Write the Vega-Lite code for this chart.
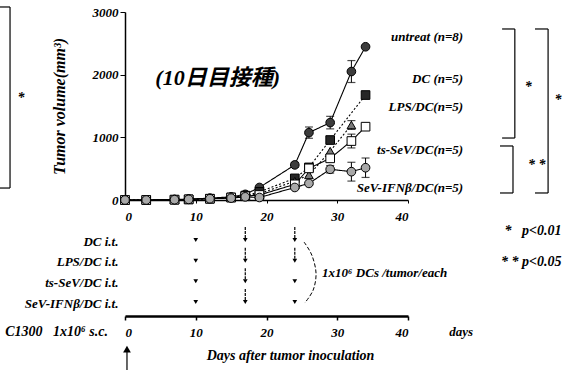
{
  "$schema": "https://vega.github.io/schema/vega-lite/v6.json",
  "width": 283,
  "height": 188,
  "autosize": {"type": "none"},
  "padding": {"left": 125, "top": 12, "right": 157, "bottom": 174},
  "background": "white",
  "config": {
    "view": {"stroke": null},
    "font": "Liberation Serif, Times New Roman, serif",
    "axis": {"grid": false, "domainColor": "black", "tickColor": "black", "labelColor": "black", "titleColor": "black"}
  },
  "datasets": {
    "growth": [
      {"group": "untreat", "day": 0, "volume": 0, "err": 0},
      {"group": "untreat", "day": 3, "volume": 0, "err": 0},
      {"group": "untreat", "day": 7, "volume": 10, "err": 0},
      {"group": "untreat", "day": 9, "volume": 15, "err": 0},
      {"group": "untreat", "day": 12, "volume": 30, "err": 0},
      {"group": "untreat", "day": 15, "volume": 50, "err": 0},
      {"group": "untreat", "day": 17, "volume": 90, "err": 0},
      {"group": "untreat", "day": 19, "volume": 200, "err": 0},
      {"group": "untreat", "day": 24, "volume": 560, "err": 40},
      {"group": "untreat", "day": 26, "volume": 1075, "err": 90},
      {"group": "untreat", "day": 29, "volume": 1235, "err": 100},
      {"group": "untreat", "day": 32, "volume": 2050, "err": 175},
      {"group": "untreat", "day": 34, "volume": 2445, "err": 0},
      {"group": "DC", "day": 0, "volume": 0, "err": 0},
      {"group": "DC", "day": 3, "volume": 0, "err": 0},
      {"group": "DC", "day": 7, "volume": 5, "err": 0},
      {"group": "DC", "day": 9, "volume": 10, "err": 0},
      {"group": "DC", "day": 12, "volume": 20, "err": 0},
      {"group": "DC", "day": 15, "volume": 40, "err": 0},
      {"group": "DC", "day": 17, "volume": 70, "err": 0},
      {"group": "DC", "day": 19, "volume": 130, "err": 0},
      {"group": "DC", "day": 24, "volume": 345, "err": 0},
      {"group": "DC", "day": 26, "volume": 520, "err": 0},
      {"group": "DC", "day": 29, "volume": 957, "err": 0},
      {"group": "DC", "day": 34, "volume": 1675, "err": 0},
      {"group": "LPS/DC", "day": 0, "volume": 0, "err": 0},
      {"group": "LPS/DC", "day": 3, "volume": 0, "err": 0},
      {"group": "LPS/DC", "day": 7, "volume": 5, "err": 0},
      {"group": "LPS/DC", "day": 9, "volume": 10, "err": 0},
      {"group": "LPS/DC", "day": 12, "volume": 20, "err": 0},
      {"group": "LPS/DC", "day": 15, "volume": 40, "err": 0},
      {"group": "LPS/DC", "day": 17, "volume": 60, "err": 0},
      {"group": "LPS/DC", "day": 19, "volume": 100, "err": 0},
      {"group": "LPS/DC", "day": 24, "volume": 300, "err": 0},
      {"group": "LPS/DC", "day": 26, "volume": 400, "err": 0},
      {"group": "LPS/DC", "day": 29, "volume": 780, "err": 0},
      {"group": "LPS/DC", "day": 32, "volume": 1197, "err": 70},
      {"group": "ts-SeV/DC", "day": 0, "volume": 0, "err": 0},
      {"group": "ts-SeV/DC", "day": 3, "volume": 0, "err": 0},
      {"group": "ts-SeV/DC", "day": 7, "volume": 5, "err": 0},
      {"group": "ts-SeV/DC", "day": 9, "volume": 10, "err": 0},
      {"group": "ts-SeV/DC", "day": 12, "volume": 20, "err": 0},
      {"group": "ts-SeV/DC", "day": 15, "volume": 40, "err": 0},
      {"group": "ts-SeV/DC", "day": 17, "volume": 60, "err": 0},
      {"group": "ts-SeV/DC", "day": 19, "volume": 80, "err": 0},
      {"group": "ts-SeV/DC", "day": 24, "volume": 250, "err": 0},
      {"group": "ts-SeV/DC", "day": 26, "volume": 505, "err": 0},
      {"group": "ts-SeV/DC", "day": 29, "volume": 665, "err": 50},
      {"group": "ts-SeV/DC", "day": 32, "volume": 941, "err": 110},
      {"group": "ts-SeV/DC", "day": 34, "volume": 1170, "err": 0},
      {"group": "SeV-IFNβ/DC", "day": 0, "volume": 0, "err": 0},
      {"group": "SeV-IFNβ/DC", "day": 3, "volume": 0, "err": 0},
      {"group": "SeV-IFNβ/DC", "day": 7, "volume": 5, "err": 0},
      {"group": "SeV-IFNβ/DC", "day": 9, "volume": 10, "err": 0},
      {"group": "SeV-IFNβ/DC", "day": 12, "volume": 20, "err": 0},
      {"group": "SeV-IFNβ/DC", "day": 15, "volume": 30, "err": 0},
      {"group": "SeV-IFNβ/DC", "day": 17, "volume": 50, "err": 0},
      {"group": "SeV-IFNβ/DC", "day": 19, "volume": 40, "err": 0},
      {"group": "SeV-IFNβ/DC", "day": 24, "volume": 200, "err": 0},
      {"group": "SeV-IFNβ/DC", "day": 26, "volume": 265, "err": 0},
      {"group": "SeV-IFNβ/DC", "day": 29, "volume": 490, "err": 60},
      {"group": "SeV-IFNβ/DC", "day": 32, "volume": 452, "err": 150},
      {"group": "SeV-IFNβ/DC", "day": 34, "volume": 515, "err": 155}
    ],
    "notes": [
      {"role": "legend", "label": "untreat (n=8)", "day": 47.8, "volume": 2600},
      {"role": "legend", "label": "DC (n=5)", "day": 47.8, "volume": 1930},
      {"role": "legend", "label": "LPS/DC(n=5)", "day": 47.8, "volume": 1480},
      {"role": "legend", "label": "ts-SeV/DC(n=5)", "day": 47.8, "volume": 800},
      {"role": "legend", "label": "SeV-IFNβ/DC(n=5)", "day": 47.8, "volume": 190},
      {"role": "title", "label": "(10日目接種)", "day": 13.1, "volume": 1947},
      {"role": "star", "label": "*", "day": 57.0, "volume": 1803},
      {"role": "star", "label": "*", "day": 61.2, "volume": 1596},
      {"role": "star", "label": "* *", "day": 58.2, "volume": 558},
      {"role": "star", "label": "*", "day": -14.7, "volume": 1628},
      {"role": "right", "label": "*\u00a0\u00a0\u00a0p<0.01", "day": 61.7, "volume": -495},
      {"role": "right", "label": "*\u00a0*\u00a0p<0.05", "day": 61.7, "volume": -989},
      {"role": "right", "label": "C1300\u00a0\u00a0\u00a01x10⁶ s.c.", "day": -2.4, "volume": -2106},
      {"role": "center", "label": "days", "day": 47.5, "volume": -2106},
      {"role": "center", "label": "1x10⁶ DCs /tumor/each", "day": 36.7, "volume": -1165}
    ],
    "brackets": [
      {"day": 53.3, "day2": 55.1, "volume": 2729, "volume2": 2729},
      {"day": 55.1, "day2": 55.1, "volume": 2729, "volume2": 989},
      {"day": 53.3, "day2": 55.1, "volume": 989, "volume2": 989},
      {"day": 57.95, "day2": 59.8, "volume": 2729, "volume2": 2729},
      {"day": 59.8, "day2": 59.8, "volume": 2729, "volume2": 112},
      {"day": 57.95, "day2": 59.8, "volume": 112, "volume2": 112},
      {"day": 53.0, "day2": 54.84, "volume": 862, "volume2": 862},
      {"day": 54.84, "day2": 54.84, "volume": 862, "volume2": 112},
      {"day": 53.0, "day2": 54.84, "volume": 112, "volume2": 112},
      {"day": -17.67, "day2": -16.25, "volume": 3080, "volume2": 3080},
      {"day": -16.25, "day2": -16.25, "volume": 3080, "volume2": 191},
      {"day": -17.67, "day2": -16.25, "volume": 191, "volume2": 191},
      {"day": 0.28, "day2": 0.28, "volume": -2400, "volume2": -2713}
    ],
    "arrowhead": [
      {"day": 0.28, "volume": -2380}
    ],
    "arc": [
      {"k": 1, "day": 25.3, "volume": -670},
      {"k": 2, "day": 26.4, "volume": -878},
      {"k": 3, "day": 27.0, "volume": -1165},
      {"k": 4, "day": 26.6, "volume": -1436},
      {"k": 5, "day": 25.4, "volume": -1644}
    ],
    "schedule": [
      {"regimen": "DC i.t.", "day": 10, "shaft": false},
      {"regimen": "LPS/DC i.t.", "day": 10, "shaft": false},
      {"regimen": "ts-SeV/DC i.t.", "day": 10, "shaft": false},
      {"regimen": "SeV-IFNβ/DC i.t.", "day": 10, "shaft": false},
      {"regimen": "DC i.t.", "day": 17, "shaft": true},
      {"regimen": "LPS/DC i.t.", "day": 17, "shaft": true},
      {"regimen": "ts-SeV/DC i.t.", "day": 17, "shaft": true},
      {"regimen": "SeV-IFNβ/DC i.t.", "day": 17, "shaft": true},
      {"regimen": "DC i.t.", "day": 24, "shaft": true},
      {"regimen": "LPS/DC i.t.", "day": 24, "shaft": true},
      {"regimen": "ts-SeV/DC i.t.", "day": 24, "shaft": false},
      {"regimen": "SeV-IFNβ/DC i.t.", "day": 24, "shaft": false}
    ]
  },
  "layer": [
    {
      "layer": [
        {
          "data": {"name": "growth"},
          "mark": {"type": "line", "color": "black", "strokeWidth": 1.1},
          "encoding": {
            "x": {"field": "day", "type": "quantitative", "scale": {"domain": [0, 40], "nice": false},
              "axis": {"values": [0, 10, 20, 30, 40], "title": null, "domainWidth": 1.5, "tickSize": 3, "labelPadding": 7,
                "labelFontSize": 13, "labelFontWeight": "bold", "labelFontStyle": "italic"}},
            "y": {"field": "volume", "type": "quantitative", "scale": {"domain": [0, 3000], "nice": false},
              "axis": {"values": [0, 1000, 2000, 3000], "format": "d", "title": "Tumor volume(mm³)", "domainWidth": 1.5, "tickSize": 5, "labelPadding": 2,
                "labelFontSize": 13, "labelFontWeight": "bold", "labelFontStyle": "italic",
                "titleFontSize": 16, "titleFontWeight": "bold", "titleFontStyle": "italic", "titlePadding": 25}},
            "strokeDash": {"field": "group", "type": "nominal", "legend": null,
              "scale": {"domain": ["untreat", "DC", "LPS/DC", "ts-SeV/DC", "SeV-IFNβ/DC"], "range": [[1, 0], [2, 2], [2, 2], [1, 0], [1, 0]]}}
          }
        },
        {
          "data": {"name": "growth"},
          "transform": [{"filter": "datum.err > 0"}, {"calculate": "datum.volume - datum.err", "as": "lo"}, {"calculate": "datum.volume + datum.err", "as": "hi"}],
          "mark": {"type": "rule", "color": "black", "strokeWidth": 1},
          "encoding": {
            "x": {"field": "day", "type": "quantitative"},
            "y": {"field": "lo", "type": "quantitative"},
            "y2": {"field": "hi"}
          }
        },
        {
          "data": {"name": "growth"},
          "transform": [{"filter": "datum.err > 0"}, {"calculate": "datum.volume + datum.err", "as": "hi"}],
          "mark": {"type": "tick", "color": "black", "orient": "horizontal", "size": 8, "thickness": 1.2},
          "encoding": {
            "x": {"field": "day", "type": "quantitative"},
            "y": {"field": "hi", "type": "quantitative"}
          }
        },
        {
          "data": {"name": "growth"},
          "transform": [{"filter": "datum.err > 0"}, {"calculate": "datum.volume - datum.err", "as": "lo"}],
          "mark": {"type": "tick", "color": "black", "orient": "horizontal", "size": 8, "thickness": 1.2},
          "encoding": {
            "x": {"field": "day", "type": "quantitative"},
            "y": {"field": "lo", "type": "quantitative"}
          }
        },
        {
          "data": {"name": "growth"},
          "mark": {"type": "point", "filled": true, "stroke": "black", "strokeWidth": 1, "size": 75, "opacity": 1},
          "encoding": {
            "x": {"field": "day", "type": "quantitative"},
            "y": {"field": "volume", "type": "quantitative"},
            "shape": {"field": "group", "type": "nominal", "legend": null,
              "scale": {"domain": ["untreat", "DC", "LPS/DC", "ts-SeV/DC", "SeV-IFNβ/DC"], "range": ["circle", "square", "triangle-up", "square", "circle"]}},
            "fill": {"field": "group", "type": "nominal", "legend": null,
              "scale": {"domain": ["untreat", "DC", "LPS/DC", "ts-SeV/DC", "SeV-IFNβ/DC"], "range": ["#3c3c3c", "#262626", "#7a7a7a", "#ffffff", "#a8a8a8"]}}
          }
        },
        {
          "data": {"name": "notes"},
          "transform": [{"filter": "datum.role === 'legend'"}],
          "mark": {"type": "text", "align": "right", "baseline": "middle", "fontSize": 13, "fontWeight": "bold", "fontStyle": "italic", "fill": "black"},
          "encoding": {"x": {"field": "day", "type": "quantitative"}, "y": {"field": "volume", "type": "quantitative"}, "text": {"field": "label"}}
        },
        {
          "data": {"name": "notes"},
          "transform": [{"filter": "datum.role === 'title'"}],
          "mark": {"type": "text", "align": "center", "baseline": "middle", "font": "Liberation Serif, Noto Sans CJK JP, serif", "fontSize": 22, "fontWeight": "bold", "fontStyle": "italic", "fill": "black"},
          "encoding": {"x": {"field": "day", "type": "quantitative"}, "y": {"field": "volume", "type": "quantitative"}, "text": {"field": "label"}}
        },
        {
          "data": {"name": "notes"},
          "transform": [{"filter": "datum.role === 'star'"}],
          "mark": {"type": "text", "align": "center", "baseline": "middle", "fontSize": 14, "fontWeight": "bold", "fontStyle": "italic", "fill": "black"},
          "encoding": {"x": {"field": "day", "type": "quantitative"}, "y": {"field": "volume", "type": "quantitative"}, "text": {"field": "label"}}
        },
        {
          "data": {"name": "notes"},
          "transform": [{"filter": "datum.role === 'right'"}],
          "mark": {"type": "text", "align": "right", "baseline": "middle", "fontSize": 14, "fontWeight": "bold", "fontStyle": "italic", "fill": "black"},
          "encoding": {"x": {"field": "day", "type": "quantitative"}, "y": {"field": "volume", "type": "quantitative"}, "text": {"field": "label"}}
        },
        {
          "data": {"name": "notes"},
          "transform": [{"filter": "datum.role === 'center'"}],
          "mark": {"type": "text", "align": "center", "baseline": "middle", "fontSize": 13, "fontWeight": "bold", "fontStyle": "italic", "fill": "black"},
          "encoding": {"x": {"field": "day", "type": "quantitative"}, "y": {"field": "volume", "type": "quantitative"}, "text": {"field": "label"}}
        },
        {
          "data": {"name": "brackets"},
          "mark": {"type": "rule", "color": "black", "strokeWidth": 1.2},
          "encoding": {
            "x": {"field": "day", "type": "quantitative"},
            "x2": {"field": "day2"},
            "y": {"field": "volume", "type": "quantitative"},
            "y2": {"field": "volume2"}
          }
        },
        {
          "data": {"name": "arrowhead"},
          "mark": {"type": "point", "shape": "triangle-up", "filled": true, "color": "black", "size": 60, "opacity": 1},
          "encoding": {"x": {"field": "day", "type": "quantitative"}, "y": {"field": "volume", "type": "quantitative"}}
        },
        {
          "data": {"name": "arc"},
          "mark": {"type": "line", "color": "black", "strokeWidth": 1, "strokeDash": [4, 2], "interpolate": "cardinal"},
          "encoding": {"x": {"field": "day", "type": "quantitative"}, "y": {"field": "volume", "type": "quantitative"}, "order": {"field": "k"}}
        }
      ]
    },
    {
      "data": {"name": "schedule"},
      "layer": [
        {
          "transform": [{"filter": "datum.shaft"}],
          "mark": {"type": "rule", "color": "black", "strokeWidth": 1.2, "strokeDash": [3, 1], "yOffset": -14, "y2Offset": -3},
          "encoding": {
            "x": {"field": "day", "type": "quantitative", "scale": {"domain": [0, 40], "nice": false},
              "axis": {"orient": "bottom", "offset": 116, "values": [0, 10, 20, 30, 40], "domainWidth": 2.5, "tickSize": 4, "tickWidth": 1.5, "labelPadding": 6,
                "labelFontSize": 13, "labelFontWeight": "bold", "labelFontStyle": "italic",
                "title": "Days after tumor inoculation", "titlePadding": 9, "titleX": 165,
                "titleFontSize": 14, "titleFontWeight": "bold", "titleFontStyle": "italic"}},
            "y": {"field": "regimen", "type": "nominal",
              "scale": {"type": "point", "padding": 0, "domain": ["DC i.t.", "LPS/DC i.t.", "ts-SeV/DC i.t.", "SeV-IFNβ/DC i.t."], "range": [229, 291]},
              "axis": {"orient": "left", "domain": false, "ticks": false, "labelPadding": 7, "title": null,
                "labelFontSize": 13, "labelFontWeight": "bold", "labelFontStyle": "italic"}},
            "y2": {"field": "regimen"}
          }
        },
        {
          "mark": {"type": "point", "shape": "triangle-down", "filled": true, "color": "black", "size": 22, "opacity": 1, "yOffset": -1},
          "encoding": {
            "x": {"field": "day", "type": "quantitative"},
            "y": {"field": "regimen", "type": "nominal"}
          }
        }
      ]
    }
  ],
  "resolve": {"scale": {"x": "independent", "y": "independent"}, "axis": {"x": "independent", "y": "independent"}}
}
